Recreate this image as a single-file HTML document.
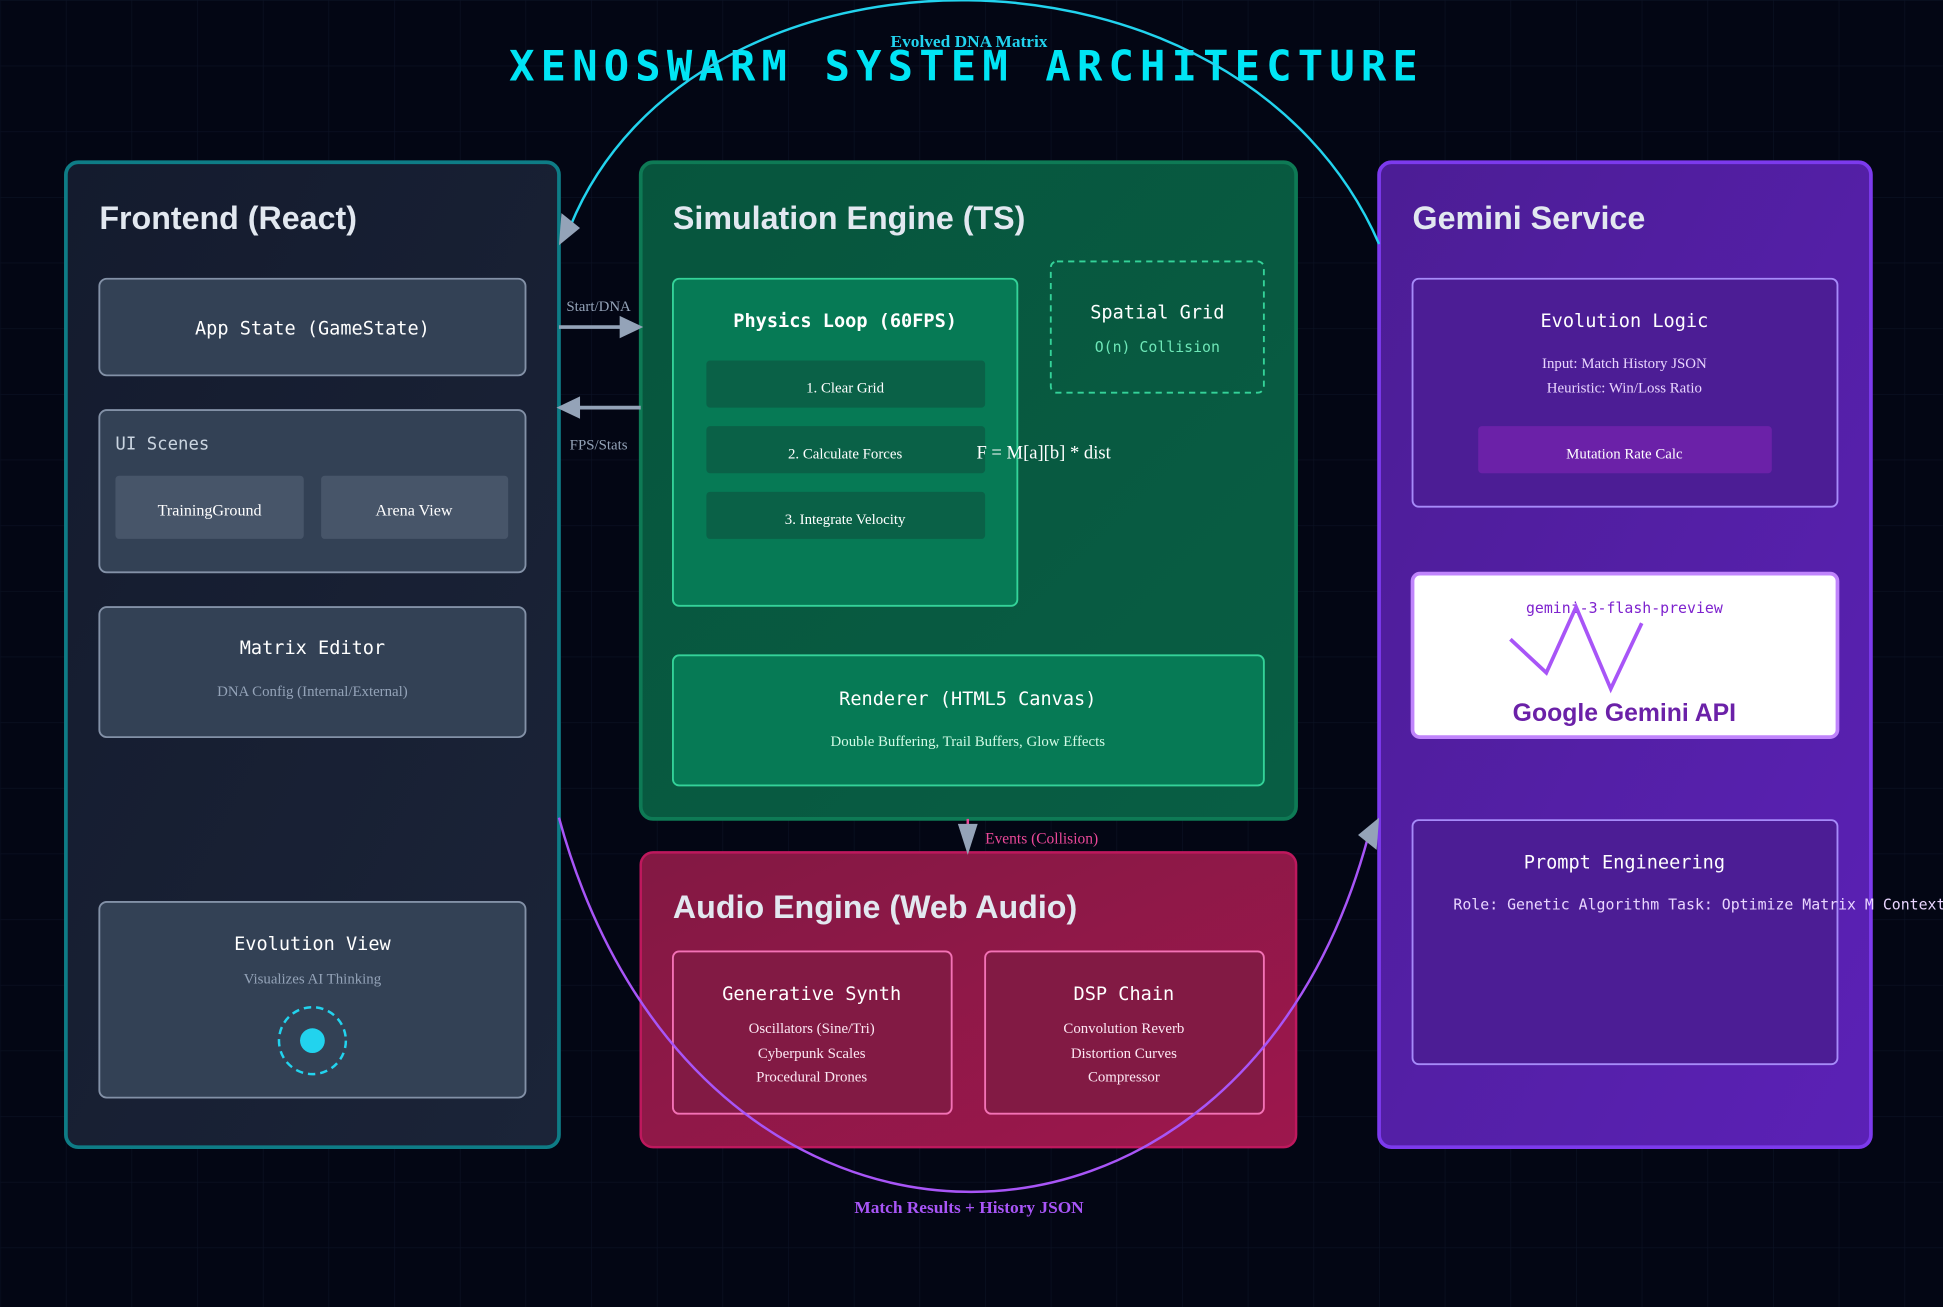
<!DOCTYPE html>
<html><head><meta charset="utf-8"><style>
html,body{margin:0;padding:0;background:#030614;}
svg{display:block;}
.mono{font-family:"DejaVu Sans Mono","Liberation Mono",monospace;}
.sans{font-family:"Liberation Sans",Arial,sans-serif;}
.serif{font-family:"Liberation Serif",serif;}
</style></head><body>
<svg width="1943" height="1307" viewBox="0 0 1568 1055" xmlns="http://www.w3.org/2000/svg">
<defs>
<pattern id="grid" width="53" height="53" patternUnits="userSpaceOnUse">
<path d="M53 0H0V53" fill="none" stroke="#0c1224" stroke-width="1"/>
</pattern>
<linearGradient id="gF" x1="0" y1="0" x2="1" y2="1"><stop offset="0" stop-color="#141b2e"/><stop offset="1" stop-color="#1b2438"/></linearGradient>
<linearGradient id="gS" x1="0" y1="0" x2="1" y2="1"><stop offset="0" stop-color="#07553d"/><stop offset="1" stop-color="#085e44"/></linearGradient>
<linearGradient id="gA" x1="0" y1="0" x2="1" y2="1"><stop offset="0" stop-color="#831843"/><stop offset="1" stop-color="#9d174d"/></linearGradient>
<linearGradient id="gG" x1="0" y1="0" x2="1" y2="1"><stop offset="0" stop-color="#4c1d95"/><stop offset="1" stop-color="#5b21b6"/></linearGradient>
</defs>
<rect width="1568" height="1055" fill="#030614"/>
<rect width="1568" height="1055" fill="url(#grid)"/>

<text x="780" y="65" text-anchor="middle" class="mono" font-size="34" font-weight="bold" fill="#00e5f5" letter-spacing="5">XENOSWARM SYSTEM ARCHITECTURE</text>

<!-- Frontend -->
<rect x="53" y="131" width="398" height="795" rx="10" fill="url(#gF)" stroke="#0e7c86" stroke-width="3"/>
<text x="80" y="185" class="sans" font-size="26" font-weight="bold" fill="#e2e8f0">Frontend (React)</text>
<rect x="80" y="225" width="344" height="78" rx="6" fill="#334155" stroke="#8391a7" stroke-width="1.5"/>
<text x="252" y="270" text-anchor="middle" class="mono" font-size="15" fill="#fff">App State (GameState)</text>
<rect x="80" y="331" width="344" height="131" rx="6" fill="#334155" stroke="#8391a7" stroke-width="1.5"/>
<text x="93" y="363" class="mono" font-size="14" fill="#cbd5e1">UI Scenes</text>
<rect x="93" y="384" width="152" height="51" rx="3" fill="#475569"/>
<rect x="259" y="384" width="151" height="51" rx="3" fill="#475569"/>
<text x="169" y="416" text-anchor="middle" class="serif" font-size="13" fill="#fff">TrainingGround</text>
<text x="334" y="416" text-anchor="middle" class="serif" font-size="13" fill="#fff">Arena View</text>
<rect x="80" y="490" width="344" height="105" rx="6" fill="#334155" stroke="#8391a7" stroke-width="1.5"/>
<text x="252" y="528" text-anchor="middle" class="mono" font-size="15" fill="#fff">Matrix Editor</text>
<text x="252" y="562" text-anchor="middle" class="serif" font-size="12" fill="#94a3b8">DNA Config (Internal/External)</text>
<rect x="80" y="728" width="344" height="158" rx="6" fill="#334155" stroke="#8391a7" stroke-width="1.5"/>
<text x="252" y="767" text-anchor="middle" class="mono" font-size="15" fill="#fff">Evolution View</text>
<text x="252" y="794" text-anchor="middle" class="serif" font-size="12" fill="#94a3b8">Visualizes AI Thinking</text>
<circle cx="252" cy="840" r="27" fill="none" stroke="#22d3ee" stroke-width="2" stroke-dasharray="6 4"/>
<circle cx="252" cy="840" r="10" fill="#22d3ee"/>

<!-- Simulation -->
<rect x="517" y="131" width="529" height="530" rx="10" fill="url(#gS)" stroke="#0e7a55" stroke-width="3"/>
<text x="543" y="185" class="sans" font-size="26" font-weight="bold" fill="#e2e8f0">Simulation Engine (TS)</text>
<rect x="543" y="225" width="278" height="264" rx="5" fill="#067a55" stroke="#34d399" stroke-width="1.5"/>
<text x="682" y="264" text-anchor="middle" class="mono" font-size="15" font-weight="bold" fill="#fff">Physics Loop (60FPS)</text>
<rect x="570" y="291" width="225" height="38" rx="3" fill="#0a6147"/>
<rect x="570" y="344" width="225" height="38" rx="3" fill="#0a6147"/>
<rect x="570" y="397" width="225" height="38" rx="3" fill="#0a6147"/>
<text x="682" y="317" text-anchor="middle" class="serif" font-size="12" fill="#fff">1. Clear Grid</text>
<text x="682" y="370" text-anchor="middle" class="serif" font-size="12" fill="#fff">2. Calculate Forces</text>
<text x="682" y="423" text-anchor="middle" class="serif" font-size="12" fill="#fff">3. Integrate Velocity</text>
<text x="788" y="370" class="serif" font-size="15" fill="#fff">F = M[a][b] * dist</text>
<rect x="848" y="211" width="172" height="106" rx="5" fill="none" stroke="#34d399" stroke-width="1.5" stroke-dasharray="5 4"/>
<text x="934" y="257" text-anchor="middle" class="mono" font-size="15" fill="#fff">Spatial Grid</text>
<text x="934" y="284" text-anchor="middle" class="mono" font-size="12" fill="#6ee7b7">O(n) Collision</text>
<rect x="543" y="529" width="477" height="105" rx="5" fill="#067a55" stroke="#34d399" stroke-width="1.5"/>
<text x="781" y="569" text-anchor="middle" class="mono" font-size="15" fill="#fff">Renderer (HTML5 Canvas)</text>
<text x="781" y="602" text-anchor="middle" class="serif" font-size="12" fill="#d1fae5">Double Buffering, Trail Buffers, Glow Effects</text>

<!-- Audio -->
<rect x="517" y="688" width="529" height="238" rx="10" fill="url(#gA)" stroke="#be185d" stroke-width="2"/>
<text x="543" y="741" class="sans" font-size="26" font-weight="bold" fill="#e2e8f0">Audio Engine (Web Audio)</text>
<rect x="543" y="768" width="225" height="131" rx="5" fill="#821a44" stroke="#f472b6" stroke-width="1.5"/>
<rect x="795" y="768" width="225" height="131" rx="5" fill="#821a44" stroke="#f472b6" stroke-width="1.5"/>
<text x="655" y="807" text-anchor="middle" class="mono" font-size="15" fill="#fff">Generative Synth</text>
<text x="655" y="834" text-anchor="middle" class="serif" font-size="12" fill="#fce7f3">Oscillators (Sine/Tri)</text>
<text x="655" y="854" text-anchor="middle" class="serif" font-size="12" fill="#fce7f3">Cyberpunk Scales</text>
<text x="655" y="873" text-anchor="middle" class="serif" font-size="12" fill="#fce7f3">Procedural Drones</text>
<text x="907" y="807" text-anchor="middle" class="mono" font-size="15" fill="#fff">DSP Chain</text>
<text x="907" y="834" text-anchor="middle" class="serif" font-size="12" fill="#fce7f3">Convolution Reverb</text>
<text x="907" y="854" text-anchor="middle" class="serif" font-size="12" fill="#fce7f3">Distortion Curves</text>
<text x="907" y="873" text-anchor="middle" class="serif" font-size="12" fill="#fce7f3">Compressor</text>

<!-- Gemini -->
<rect x="1113" y="131" width="397" height="795" rx="10" fill="url(#gG)" stroke="#7c3aed" stroke-width="3"/>
<text x="1140" y="185" class="sans" font-size="26" font-weight="bold" fill="#e2e8f0">Gemini Service</text>
<rect x="1140" y="225" width="343" height="184" rx="5" fill="#4c1d95" stroke="#a78bfa" stroke-width="1.5"/>
<text x="1311" y="264" text-anchor="middle" class="mono" font-size="15" fill="#fff">Evolution Logic</text>
<text x="1311" y="297" text-anchor="middle" class="serif" font-size="12" fill="#e9d5ff">Input: Match History JSON</text>
<text x="1311" y="317" text-anchor="middle" class="serif" font-size="12" fill="#e9d5ff">Heuristic: Win/Loss Ratio</text>
<rect x="1193" y="344" width="237" height="38" rx="3" fill="#6b21a8"/>
<text x="1311" y="370" text-anchor="middle" class="serif" font-size="12" fill="#fff">Mutation Rate Calc</text>
<rect x="1140" y="463" width="343" height="132" rx="6" fill="#fff" stroke="#c084fc" stroke-width="3"/>
<text x="1311" y="495" text-anchor="middle" class="mono" font-size="12" fill="#7e22ce">gemini-3-flash-preview</text>
<polyline points="1219,516 1248,543 1272,490 1300,556 1325,503" fill="none" stroke="#a855f7" stroke-width="3"/>
<text x="1311" y="582" text-anchor="middle" class="sans" font-size="20" font-weight="bold" fill="#6b21a8">Google Gemini API</text>
<rect x="1140" y="662" width="343" height="197" rx="5" fill="#4c1d95" stroke="#a78bfa" stroke-width="1.5"/>
<text x="1311" y="701" text-anchor="middle" class="mono" font-size="15" fill="#fff">Prompt Engineering</text>
<text x="1173" y="734" class="mono" font-size="12" fill="#e9d5ff">Role: Genetic Algorithm Task: Optimize Matrix M Context</text>

<!-- Connectors -->
<line x1="451" y1="264" x2="503" y2="264" stroke="#94a3b8" stroke-width="3"/>
<polygon points="519,264 500,255 500,273" fill="#94a3b8"/>
<text x="483" y="251" text-anchor="middle" class="serif" font-size="12" fill="#94a3b8">Start/DNA</text>
<line x1="517" y1="329" x2="465" y2="329" stroke="#94a3b8" stroke-width="3"/>
<polygon points="449,329 468,320 468,338" fill="#94a3b8"/>
<text x="483" y="363" text-anchor="middle" class="serif" font-size="12" fill="#94a3b8">FPS/Stats</text>
<line x1="781" y1="661" x2="781" y2="675" stroke="#ec4899" stroke-width="2"/>
<polygon points="781,690 773,665 789,665" fill="#94a3b8"/>
<text x="795" y="681" class="serif" font-size="12.5" fill="#ec4899">Events (Collision)</text>

<path d="M1113,197 C1000,-63 560,-63 460,183" fill="none" stroke="#22d3ee" stroke-width="2"/>
<polygon points="451,198 453,172 468,184" fill="#94a3b8"/>
<text x="782" y="38" text-anchor="middle" class="serif" font-size="14" font-weight="bold" fill="#22d3ee">Evolved DNA Matrix</text>

<path d="M451,660 C560,1060 1000,1060 1104,676" fill="none" stroke="#a855f7" stroke-width="2"/>
<polygon points="1113,660 1111,686 1096,674" fill="#94a3b8"/>
<text x="782" y="979" text-anchor="middle" class="serif" font-size="14" font-weight="bold" fill="#a855f7">Match Results + History JSON</text>
</svg>
</body></html>
